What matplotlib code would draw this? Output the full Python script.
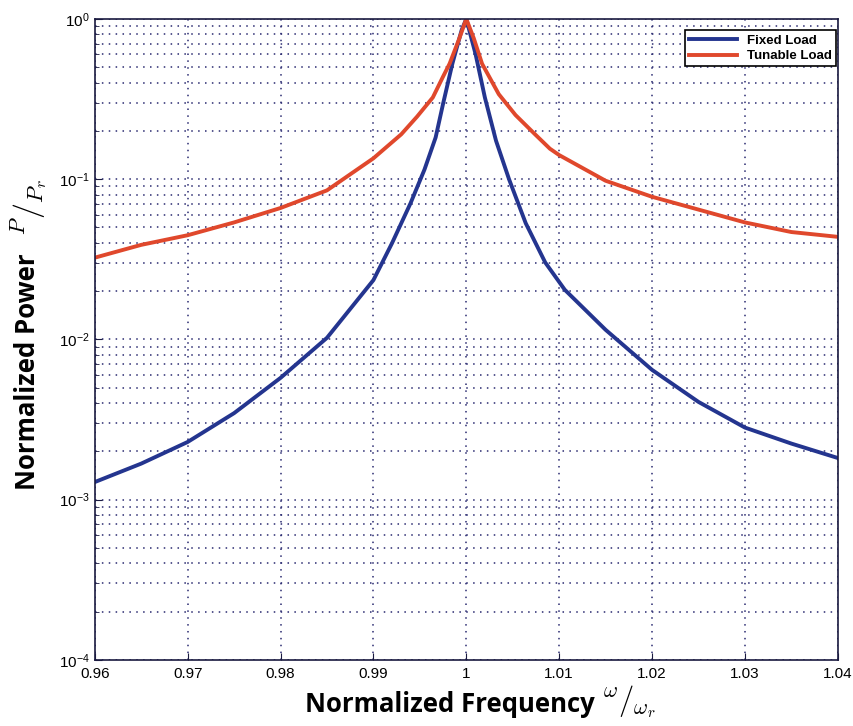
import numpy as np
import matplotlib
matplotlib.use("Agg")
import matplotlib.pyplot as plt
from matplotlib.ticker import FixedLocator, FuncFormatter, LogLocator, NullFormatter

plt.rcParams['mathtext.fontset'] = 'cm'
plt.rcParams['font.family'] = ['Liberation Sans', 'DejaVu Sans']

# Datos
x_fixed = [0.96, 0.965, 0.97, 0.975, 0.98, 0.985, 0.99, 0.992, 0.994, 0.9955,
           0.9967, 0.9975, 0.9985, 0.9995, 1.0, 1.001, 1.002, 1.0032, 1.0046,
           1.0064, 1.0085, 1.0106, 1.015, 1.02, 1.025, 1.03, 1.035, 1.04]
p_fixed = [0.001288, 0.001679, 0.002291, 0.003467, 0.005754, 0.01023, 0.02344,
           0.03981, 0.07079, 0.1148, 0.1820, 0.2951, 0.5248, 0.8511, 1.0,
           0.6026, 0.3236, 0.1738, 0.1, 0.05309, 0.03020, 0.02042, 0.01148,
           0.006457, 0.004074, 0.002818, 0.002239, 0.001820]

x_tun = [0.96, 0.965, 0.97, 0.975, 0.98, 0.985, 0.99, 0.993, 0.9947, 0.9964,
         0.9975, 0.9982, 0.9992, 1.0, 1.0008, 1.0017, 1.0035, 1.0053, 1.0074,
         1.009, 1.01, 1.015, 1.02, 1.025, 1.03, 1.035, 1.04]
p_tun = [0.03236, 0.03890, 0.04467, 0.05370, 0.06607, 0.08511, 0.1349, 0.1905,
         0.2455, 0.3236, 0.4365, 0.5248, 0.7413, 1.0, 0.7586, 0.5248, 0.3388,
         0.2512, 0.1905, 0.1549, 0.1413, 0.09772, 0.07762, 0.06457, 0.05370,
         0.04677, 0.04365]

x_ticks = [0.96, 0.97, 0.98, 0.99, 1.0, 1.01, 1.02, 1.03, 1.04]
x_labels = ['0.96', '0.97', '0.98', '0.99', '1', '1.01', '1.02', '1.03', '1.04']

fig = plt.figure(figsize=(8.54, 7.26), dpi=100)
ax = fig.add_axes([0.111, 0.091, 0.870, 0.883])

ax.plot(x_fixed, p_fixed, color='#24358f', lw=2.8, label='Fixed Load',
        solid_joinstyle='round')
ax.plot(x_tun, p_tun, color='#e0482c', lw=2.8, label='Tunable Load',
        solid_joinstyle='round')

ax.set_yscale('log')
ax.set_xlim(0.96, 1.04)
ax.set_ylim(1e-4, 1)

ax.xaxis.set_major_locator(FixedLocator(x_ticks))
ax.set_xticklabels(x_labels)
ax.yaxis.set_major_locator(LogLocator(base=10, numticks=10))
ax.yaxis.set_minor_locator(LogLocator(base=10, subs=np.arange(2, 10), numticks=10))
ax.yaxis.set_minor_formatter(NullFormatter())
ax.yaxis.set_major_formatter(FuncFormatter(lambda v, p: r'$\mathregular{10^{%d}}$' % round(np.log10(v))))

# Rejilla punteada
gcol = '#2a2a70'
ax.grid(True, which='major', axis='both', linestyle=(0, (1, 3.5)), color=gcol, lw=1.1)
ax.grid(True, which='minor', axis='y', linestyle=(0, (1, 3.5)), color=gcol, lw=1.1)

ax.tick_params(direction='in', which='both', labelsize=11, colors='#1a1a40',
               labelcolor='black', top=False, right=False)
ax.tick_params(which='major', length=5)
ax.tick_params(axis='x', pad=5)
ax.tick_params(which='minor', length=3)
for s in ax.spines.values():
    s.set_color('#1a1a40')
    s.set_linewidth(1.2)

# Etiquetas de ejes
fig.text(0.357, 0.019, 'Normalized Frequency', fontsize=18.5, fontweight='bold',
         family='Open Sans', ha='left', va='baseline')
fig.text(0.705, 0.034, r'$^{\omega}/_{\omega_r}$', fontsize=22,
         ha='left', va='center')
fig.text(0.032, 0.325, 'Normalized Power', fontsize=18.5, fontweight='bold',
         family='Open Sans', rotation=90, ha='center', va='bottom')
fig.text(0.034, 0.675, r'$^{P}/_{P_r}$', fontsize=23, rotation=90,
         ha='center', va='bottom')

leg = ax.legend(loc='upper right', bbox_to_anchor=(0.998, 0.982), fontsize=9.5,
                fancybox=False, framealpha=1, edgecolor='black',
                borderaxespad=0, handlelength=3.6, labelspacing=0.25,
                borderpad=0.3)
leg.get_frame().set_linewidth(1.2)
for t in leg.get_texts():
    t.set_fontweight('bold')

plt.savefig('out.png', dpi=100)
